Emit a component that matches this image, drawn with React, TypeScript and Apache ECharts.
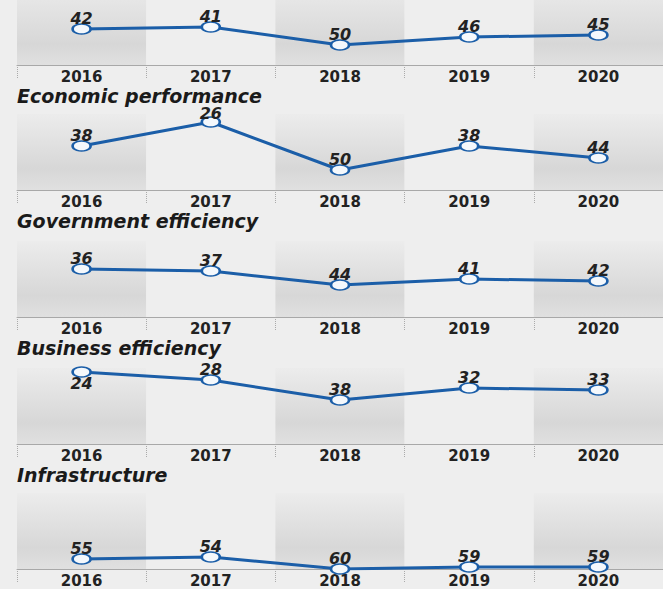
import React, { useEffect, useRef } from "react";
import * as echarts from "echarts";

const years = ["2016", "2017", "2018", "2019", "2020"];
const overallRank = [42, 41, 50, 46, 45];
const economicRank = [38, 26, 50, 38, 44];
const governmentRank = [36, 37, 44, 41, 42];
const businessRank = [24, 28, 38, 32, 33];
const infrastructureRank = [55, 54, 60, 59, 59];
const panelTitles = ["", "Economic performance", "Government efficiency", "Business efficiency", "Infrastructure"];
const panelSeries = [overallRank, economicRank, governmentRank, businessRank, infrastructureRank];
// points whose label sits below the marker: [panelIndex, pointIndex]
const labelsBelow = [[3, 0]];
// points whose label hugs the marker more tightly: [panelIndex, pointIndex]
const labelsTight = [[1, 1]];

const axisLineY = [65, 190, 317, 444, 569];
const gridHeight = 76;
const pxPerRank = 2;
const rankAtAxis = 60;
const FONT = "DejaVu Sans";

export default function App() {
  const ref = useRef<HTMLDivElement>(null);
  useEffect(() => {
    document.body.style.margin = "0";
    const chart = echarts.init(ref.current!, null, { renderer: "svg" });
    const bandGrad = new echarts.graphic.LinearGradient(0, 0, 0, 1, [
      { offset: 0, color: "#ececec" },
      { offset: 0.72, color: "#d7d7d7" },
      { offset: 1, color: "#e0e0e0" },
    ]);
    const bandGradTop = new echarts.graphic.LinearGradient(0, 0, 0, 1, [
      { offset: 0, color: "#e6e6e6" },
      { offset: 0.68, color: "#d7d7d7" },
      { offset: 1, color: "#e0e0e0" },
    ]);
    const grids: any[] = [];
    const xAxes: any[] = [];
    const yAxes: any[] = [];
    const series: any[] = [];
    const titles: any[] = [];
    panelSeries.forEach((vals, p) => {
      const top = Math.max(0, axisLineY[p] - gridHeight);
      const h = axisLineY[p] - top;
      grids.push({ left: 17, width: 655, top, height: h });
      xAxes.push({
        type: "category",
        gridIndex: p,
        data: years,
        boundaryGap: true,
        axisLine: { show: true, lineStyle: { color: "#a8a8a8", width: 1 } },
        axisTick: { show: true, length: 14, lineStyle: { color: "#aaaaaa", type: "dotted", width: 1 } },
        axisLabel: { color: "#222", fontFamily: FONT, fontWeight: "bold", fontSize: 15, lineHeight: 13, margin: 5 },
        splitArea: { show: true, areaStyle: { color: [p === 0 ? bandGradTop : bandGrad, "#eeeeee"] } },
        splitLine: { show: false },
      });
      yAxes.push({
        type: "value",
        gridIndex: p,
        inverse: true,
        min: rankAtAxis - h / pxPerRank,
        max: rankAtAxis,
        show: false,
        splitLine: { show: false },
      });
      series.push({
        type: "line",
        xAxisIndex: p,
        yAxisIndex: p,
        data: vals.map((v, i) => {
          const below = labelsBelow.some(([pp, ii]) => pp === p && ii === i);
          const tight = labelsTight.some(([pp, ii]) => pp === p && ii === i);
          if (below) return { value: v, label: { position: "bottom", distance: 0 } };
          if (tight) return { value: v, label: { distance: -3 } };
          return v;
        }),
        symbol: "circle",
        symbolSize: [18, 10],
        lineStyle: { color: "#1b5ea8", width: 3 },
        itemStyle: { color: "#f4f8fc", borderColor: "#1b5ea8", borderWidth: 2 },
        label: {
          show: true,
          position: "top",
          distance: -1,
          color: "#222",
          fontFamily: FONT,
          fontWeight: "bold",
          fontStyle: "italic",
          fontSize: 16,
          lineHeight: 12,
        },
        z: 3,
      });
      if (panelTitles[p]) {
        titles.push({
          text: panelTitles[p],
          left: 17,
          top: axisLineY[p - 1] + 31.5 - 9,
          padding: 0,
          textStyle: {
            color: "#1a1a1a",
            fontFamily: FONT,
            fontWeight: "bold",
            fontStyle: "italic",
            fontSize: 19,
            lineHeight: 16,
          },
        });
      }
    });
    chart.setOption({
      animation: false,
      backgroundColor: "#eeeeee",
      title: titles,
      grid: grids,
      xAxis: xAxes,
      yAxis: yAxes,
      series,
    });
    return () => chart.dispose();
  }, []);
  return <div ref={ref} style={{ position: "fixed", left: 0, top: 0, width: 663, height: 589, background: "#eeeeee" }} />;
}
